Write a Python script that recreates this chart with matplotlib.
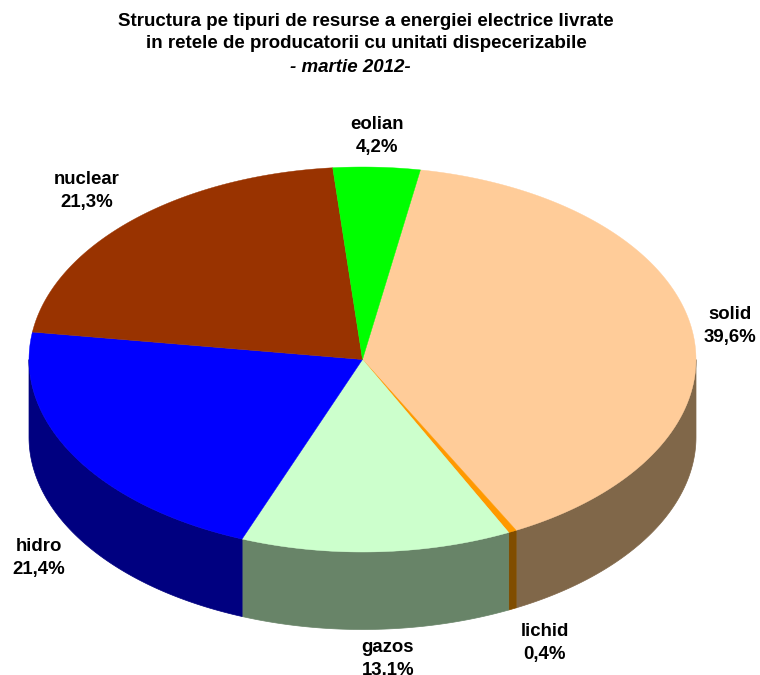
import numpy as np
import matplotlib
matplotlib.use('Agg')
import matplotlib.pyplot as plt

plt.rcParams['font.family'] = ['Liberation Sans', 'DejaVu Sans']

# slices, clockwise from the eolian/solid border
labels = ['solid', 'lichid', 'gazos', 'hidro', 'nuclear', 'eolian']
values = [39.6, 0.4, 13.1, 21.4, 21.3, 4.2]
top_colors = ['#FFCC99', '#FF9900', '#CCFFCC', '#0000FF', '#993300', '#00FF00']
side_colors = ['#806749', '#804D00', '#688468', '#000080', '#4D1A00', '#008000']
label_pos = [(730, 326), (545, 643), (388, 659), (39, 558), (87, 191), (377, 136)]

cx, cy, rx, ry, depth = 362.5, 359.5, 333.5, 192.5, 77.5
start = 80.0

fig = plt.figure(figsize=(7.6, 6.75), dpi=100)
ax = fig.add_axes([0, 0, 1, 1])
ax.set_xlim(0, 760)
ax.set_ylim(675, 0)
ax.axis('off')

angles = start - np.cumsum([0] + values) / sum(values) * 360

# side wall first, only the part facing the viewer
for i in range(len(values)):
    a0, a1 = angles[i], angles[i + 1]
    for k in range(-1, 1):
        lo = max(a1, -180 + 360 * k)
        hi = min(a0, 0 + 360 * k)
        if hi <= lo:
            continue
        t = np.radians(np.linspace(hi, lo, 80))
        x = cx + rx * np.cos(t)
        y = cy - ry * np.sin(t)
        ax.fill(np.r_[x, x[::-1]], np.r_[y, y[::-1] + depth],
                color=side_colors[i], lw=0.5, zorder=2)

for i in range(len(values)):
    t = np.radians(np.linspace(angles[i], angles[i + 1], 200))
    x = np.r_[cx, cx + rx * np.cos(t)]
    y = np.r_[cy, cy - ry * np.sin(t)]
    ax.fill(x, y, color=top_colors[i], lw=0.3, zorder=3)

for i in range(len(values)):
    txt = labels[i] + '\n' + ('%.1f%%' % values[i]).replace('.', ',')
    ax.text(label_pos[i][0], label_pos[i][1], txt, ha='center', va='center',
            fontsize=13.4, fontweight='bold', color='black', linespacing=1.48, zorder=5)

ax.text(366, 21, 'Structura pe tipuri de resurse a energiei electrice livrate',
        ha='center', va='center', fontsize=13.5, fontweight='bold')
ax.text(366, 44, 'in retele de producatorii cu unitati dispecerizabile',
        ha='center', va='center', fontsize=13.5, fontweight='bold')
ax.text(350, 67, '- martie 2012-', ha='center', va='center', fontsize=13.5,
        fontweight='bold', fontstyle='italic')

fig.savefig('out.png', dpi=100)
